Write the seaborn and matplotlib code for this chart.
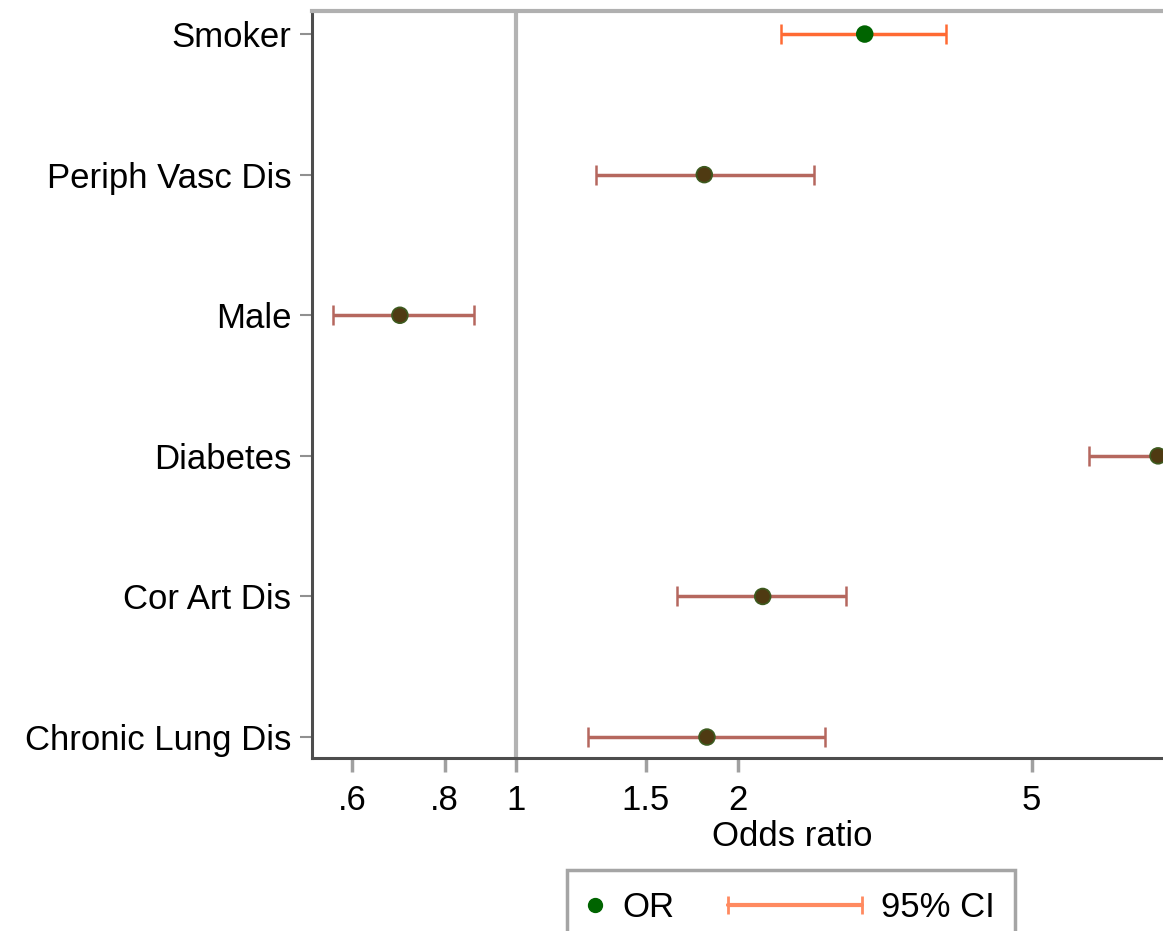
import matplotlib
matplotlib.use("Agg")
import matplotlib.pyplot as plt
import seaborn as sns
import pandas as pd
from matplotlib.lines import Line2D
from matplotlib.legend_handler import HandlerBase

# ---- data ----
labels = ["Smoker", "Periph Vasc Dis", "Male", "Diabetes", "Cor Art Dis", "Chronic Lung Dis"]
odds = [2.97, 1.80, 0.696, 7.42, 2.16, 1.815]
ci_low = [2.29, 1.284, 0.565, 5.98, 1.653, 1.252]
ci_high = [3.83, 2.535, 0.877, 9.2, 2.80, 2.624]
xticks = [0.6, 0.8, 1, 1.5, 2, 5]
xticklabels = [".6", ".8", "1", "1.5", "2", "5"]

df = pd.DataFrame({"label": labels, "OR": odds, "lo": ci_low, "hi": ci_high})
df["pos"] = range(len(df))

sns.set_style("white")
plt.rcParams["font.family"] = ["Liberation Sans", "DejaVu Sans"]
plt.rcParams["text.color"] = "black"
plt.rcParams["axes.labelcolor"] = "black"
plt.rcParams["xtick.labelcolor"] = "black"
plt.rcParams["ytick.labelcolor"] = "black"

W, H = 1163, 931
fig = plt.figure(figsize=(W / 100, H / 100), dpi=100)
left, right, top, bottom = 312, 1272, 11, 758
ax = fig.add_axes([left / W, 1 - bottom / H, (right - left) / W, (bottom - top) / H])
ax.set_xscale("log")

# reference line at OR = 1
ax.axvline(1, color="#b3b3b3", lw=3, zorder=1)

first_ci = "#ff6a33"
other_ci = "#b5675e"
for i, r in df.iterrows():
    c = first_ci if i == 0 else other_ci
    ax.errorbar([r["OR"]], [r["pos"]],
                xerr=[[r["OR"] - r["lo"]], [r["hi"] - r["OR"]]],
                fmt="none", ecolor=c, elinewidth=2.5, capsize=7, capthick=1.8, zorder=2)

pt_face = ["#006400"] + ["#4f3a12"] * 5
pt_edge = ["#006400"] + ["#3d5a1f"] * 5
sns.scatterplot(data=df, x="OR", y="pos", ax=ax, s=130, c=pt_face, edgecolor=pt_edge,
                linewidth=1.2, zorder=3, legend=False)

ax.set_xlim(0.529, 10.59)
ax.set_ylim(5.149, -0.164)
ax.set_xticks(xticks)
ax.set_xticklabels(xticklabels)
ax.minorticks_off()
ax.set_yticks(df["pos"])
ax.set_yticklabels(df["label"])
ax.set_ylabel("")
ax.set_xlabel("Odds ratio", fontsize=25, labelpad=2, color="black")
ax.tick_params(axis="x", labelsize=25, length=10, width=2.5, color="#a0a0a0", pad=9,
               bottom=True, labelcolor="black")
ax.tick_params(axis="y", labelsize=25, length=9, width=1.5, color="#909090", pad=6,
               left=True, labelcolor="black")

for s in ["left", "bottom"]:
    ax.spines[s].set_color("#4d4d4d")
    ax.spines[s].set_linewidth(2.2)
ax.spines["top"].set_color("#b0b0b0")
ax.spines["top"].set_linewidth(3)
ax.spines["right"].set_visible(False)


class CIHandler(HandlerBase):
    def __init__(self, length, color, lw, cap):
        super().__init__()
        self.length = length
        self.color = color
        self.lw = lw
        self.cap = cap

    def create_artists(self, legend, orig_handle, xdescent, ydescent, width, height,
                       fontsize, trans):
        y = height / 2 - ydescent
        x1 = width - xdescent
        x0 = x1 - self.length
        line = Line2D([x0, x1], [y, y], color=self.color, lw=self.lw, transform=trans)
        caps = Line2D([x0, x1], [y, y], ls="none", marker="|", markersize=self.cap,
                      mew=2, color=self.color, transform=trans)
        return [line, caps]


dot_handle = Line2D([], [], marker="o", ls="none", color="#006400", markersize=10)
ci_handle = Line2D([], [], color="#ff8a60")
leg = fig.legend([dot_handle, ci_handle], ["OR", "95% CI"], ncol=2,
                 loc="upper center", bbox_to_anchor=(791 / W, 1 - 870 / H),
                 borderaxespad=0,
                 fontsize=25, handlelength=0.45, handletextpad=0.55, columnspacing=4.95,
                 borderpad=0.6, frameon=True, fancybox=False,
                 handler_map={ci_handle: CIHandler(96, "#ff8a60", 3, 13)})
leg.get_frame().set_edgecolor("#8f8f8f")
leg.get_frame().set_linewidth(2.5)

fig.savefig("out.png", dpi=100)
